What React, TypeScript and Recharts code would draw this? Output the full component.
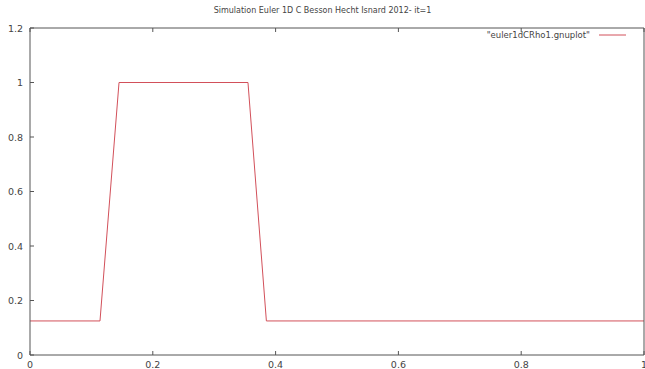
import React from 'react';
import { LineChart, Line, XAxis, YAxis } from 'recharts';

const xValues = [0, 0.114, 0.145, 0.355, 0.385, 1];
const rhoValues = [0.125, 0.125, 1, 1, 0.125, 0.125];
const xTicks = [0, 0.2, 0.4, 0.6, 0.8, 1];
const yTicks = [0, 0.2, 0.4, 0.6, 0.8, 1, 1.2];
const title = 'Simulation Euler 1D C Besson Hecht Isnard 2012- it=1';
const seriesName = '"euler1dCRho1.gnuplot"';

const data = xValues.map((x, i) => ({ x, rho: rhoValues[i] }));

const FONT = '"DejaVu Sans", sans-serif';
const TEXT = '#444';
const FRAME = '#555';
const RED = '#d2505a';

const BottomTick = (p: any) => (
  <g>
    <line x1={p.x} y1={p.y} x2={p.x} y2={p.y - 4} stroke={FRAME} strokeWidth={1} />
    <text x={p.x} y={p.y + 13} textAnchor="middle" fontSize={9.5} fontFamily={FONT} fill={TEXT}>
      {String(p.payload.value)}
    </text>
  </g>
);
const TopTick = (p: any) => (
  <line x1={p.x} y1={p.y} x2={p.x} y2={p.y + 4} stroke={FRAME} strokeWidth={1} />
);
const LeftTick = (p: any) => (
  <g>
    <line x1={p.x} y1={p.y} x2={p.x + 4} y2={p.y} stroke={FRAME} strokeWidth={1} />
    <text x={p.x - 7} y={p.y + 3.5} textAnchor="end" fontSize={9.5} fontFamily={FONT} fill={TEXT}>
      {String(p.payload.value)}
    </text>
  </g>
);
const RightTick = (p: any) => (
  <line x1={p.x} y1={p.y} x2={p.x - 4} y2={p.y} stroke={FRAME} strokeWidth={1} />
);

export default function App() {
  return (
    <div style={{ position: 'absolute', left: 0, top: 0, width: 645, height: 369, background: '#fff' }}>
      <LineChart width={645} height={369} data={data} margin={{ top: 0, right: 0, bottom: 0, left: 0 }}>
        <XAxis
          xAxisId="bottom"
          dataKey="x"
          type="number"
          domain={[0, 1]}
          ticks={xTicks}
          interval={0}
          orientation="bottom"
          height={14}
          tickSize={0}
          tickMargin={0}
          tickLine={false}
          axisLine={{ stroke: FRAME }}
          tick={BottomTick}
        />
        <XAxis
          xAxisId="top"
          dataKey="x"
          type="number"
          domain={[0, 1]}
          ticks={xTicks}
          interval={0}
          orientation="top"
          height={28}
          tickSize={0}
          tickMargin={0}
          tickLine={false}
          axisLine={{ stroke: FRAME }}
          tick={TopTick}
        />
        <YAxis
          yAxisId="left"
          type="number"
          domain={[0, 1.2]}
          ticks={yTicks}
          interval={0}
          orientation="left"
          width={30}
          tickSize={0}
          tickMargin={0}
          tickLine={false}
          axisLine={{ stroke: FRAME }}
          tick={LeftTick}
        />
        <YAxis
          yAxisId="right"
          type="number"
          domain={[0, 1.2]}
          ticks={yTicks}
          interval={0}
          orientation="right"
          width={1}
          tickSize={0}
          tickMargin={0}
          tickLine={false}
          axisLine={{ stroke: FRAME }}
          tick={RightTick}
        />
        <Line
          xAxisId="bottom"
          yAxisId="left"
          dataKey="rho"
          type="linear"
          stroke={RED}
          strokeWidth={1}
          dot={false}
          activeDot={false}
          isAnimationActive={false}
        />
      </LineChart>
      <div
        style={{
          position: 'absolute',
          top: 6,
          left: 0,
          width: 645,
          textAlign: 'center',
          fontFamily: FONT,
          fontSize: 8,
          color: TEXT,
          lineHeight: '10px',
        }}
      >
        {title}
      </div>
      <div
        style={{
          position: 'absolute',
          top: 30,
          right: 11,
          display: 'flex',
          alignItems: 'center',
          fontFamily: FONT,
          fontSize: 8.5,
          color: TEXT,
          lineHeight: '10px',
        }}
      >
        <span>{seriesName}</span>
        <svg width={35} height={6} style={{ marginLeft: 9, display: 'block' }}>
          <line x1={0} y1={3} x2={27} y2={3} stroke={RED} strokeWidth={1} />
        </svg>
      </div>
    </div>
  );
}
